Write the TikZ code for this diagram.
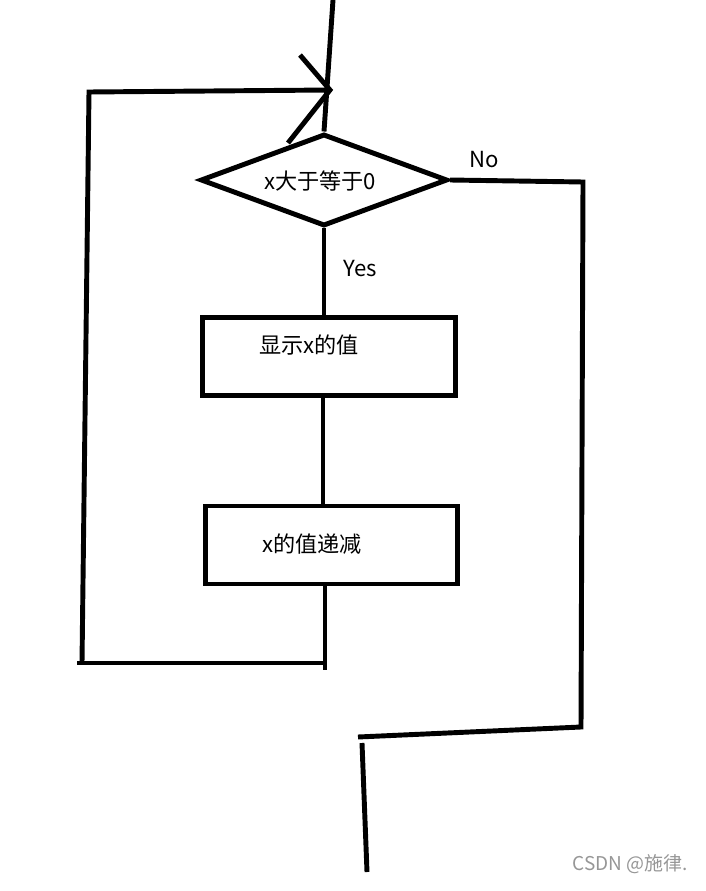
\documentclass[tikz,border=0pt]{standalone}
\usepackage{fontspec}
\setmainfont{Noto Sans CJK SC}
\usetikzlibrary{shapes.geometric}
\definecolor{markgray}{RGB}{150,150,150}
\begin{document}
\begin{tikzpicture}[x=0.01cm, y=-0.01cm, line width=1.4pt]
	\tikzset{every node/.style={font=\fontsize{6.3pt}{7.5pt}\selectfont}}
	\tikzset{decision/.style={draw, diamond, aspect=2.7, inner sep=0pt, minimum width=2.47cm, minimum height=0.92cm}}
	\tikzset{flowbox/.style={draw, rectangle, inner sep=0pt, minimum width=2.52cm, minimum height=0.78cm}}
	\tikzset{txt/.style={inner sep=0pt}}
	\useasboundingbox (0,0) rectangle (705,891);
	% --- 1. Khối và chữ ---
	\node[decision] (cond) at (324,180) {};
	\node[txt] (condtext) at (320,181) {x大于等于0};
	\node[flowbox] (show) at (329,356.5) {};
	\node[txt] (showtext) at (309,345) {显示x的值};
	\node[flowbox] (dec) at (331.5,545) {};
	\node[txt] (dectext) at (312,544) {x的值递减};
	\node[txt] (yes) at (360,269) {Yes};
	\node[txt] (no) at (484,160) {No};
	% --- 2. Các điểm của đường vòng ---
	\coordinate (top) at (333,0);
	\coordinate (loopTR) at (330,90);
	\coordinate (loopTL) at (89,92);
	\coordinate (loopBL) at (82,663);
	\coordinate (loopBS) at (77,663);
	\coordinate (loopBR) at (325,663);
	\coordinate (loopEnd) at (325,670);
	\coordinate (barbA) at (300,55);
	\coordinate (barbB) at (288,143);
	\coordinate (noTR) at (583,182);
	\coordinate (noBR) at (581,727);
	\coordinate (noBL) at (358,737);
	\coordinate (outTop) at (362,743);
	\coordinate (outEnd) at (367,872);
	% --- 3. Đường nối ---
	\draw (top) -- (cond.north);
	\draw (cond.south) -- (cond.south |- show.north);
	\draw (show.south -| 323,0) -- (dec.north -| 323,0);
	\draw (dec.south -| 325,0) -- (loopEnd);
	\draw (loopBR) -- (loopBS);
	\draw (loopBL) -- (loopTL) -- (loopTR);
	\draw (barbA) -- (loopTR) -- (barbB); % Mũi tên vẽ tay
	\draw (cond.east) -- (noTR) -- (noBR) -- (noBL);
	\draw (outTop) -- (outEnd);
	% --- 4. Hình mờ ---
	\node[txt, text=markgray, font=\fontsize{5.4pt}{6.5pt}\selectfont] (mark) at (630,864) {CSDN @施律.};
\end{tikzpicture}
\end{document}
